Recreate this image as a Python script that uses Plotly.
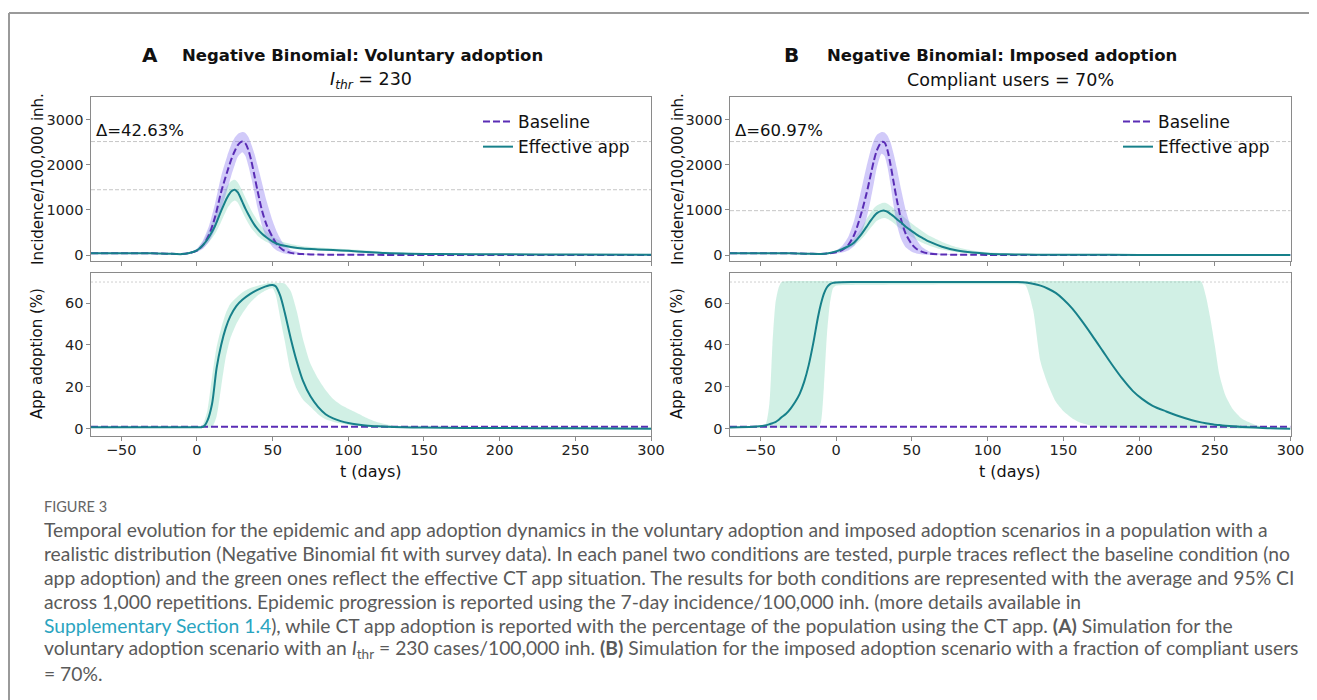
import plotly.graph_objects as go

# page is shown with an 8px body margin: figure covers window pixels 8..1317
OFF = 8
W, H = 1317 - OFF, 700 - OFF

# ------------------------------------------------------------------ data
# incidence (7-day / 100,000 inh.) — shared time grid
t_inc = [-70, -50, -30, -20, -10, -5, 0, 4, 8, 12, 16, 20, 23, 25, 27, 30, 32, 34, 36, 38,
         40, 43, 46, 50, 53, 57, 62, 70, 80, 90, 100, 112, 124, 140, 160, 200, 250, 300]

A_base_mean = [40, 40, 37, 30, 20, 45, 100, 220, 450, 850, 1400, 1850, 2150, 2310, 2440, 2520, 2480, 2330, 2080, 1760,
               1430, 985, 670, 393, 230, 110, 48, 20, 10, 7, 5, 4, 3, 2, 2, 1, 1, 1]
A_base_lo = [30, 30, 27, 20, 12, 30, 65, 140, 300, 580, 1000, 1450, 1800, 2000, 2180, 2280, 2200, 1980, 1700, 1380,
             1050, 650, 380, 180, 95, 40, 15, 5, 3, 2, 1, 1, 0, 0, 0, 0, 0, 0]
A_base_hi = [50, 50, 47, 40, 30, 60, 140, 330, 650, 1150, 1750, 2200, 2480, 2610, 2690, 2730, 2710, 2620, 2450, 2250,
             2000, 1600, 1200, 760, 500, 260, 110, 40, 18, 12, 9, 7, 5, 4, 3, 2, 2, 2]
A_app_mean = [40, 40, 37, 30, 20, 45, 105, 220, 400, 650, 980, 1280, 1420, 1450, 1390, 1180, 1030, 900, 780, 670,
              580, 470, 390, 300, 250, 210, 180, 145, 125, 110, 92, 68, 45, 30, 22, 15, 10, 8]
A_app_lo = [32, 32, 29, 22, 13, 32, 75, 160, 290, 470, 740, 1030, 1170, 1210, 1160, 960, 820, 700, 590, 510,
            430, 350, 290, 230, 195, 170, 145, 115, 100, 85, 65, 40, 25, 15, 10, 5, 3, 2]
A_app_hi = [48, 48, 45, 38, 28, 60, 140, 300, 560, 880, 1250, 1540, 1650, 1670, 1610, 1420, 1270, 1130, 990, 870,
            760, 630, 520, 420, 350, 290, 245, 195, 165, 145, 128, 100, 72, 50, 36, 25, 18, 15]

B_base_mean = [40, 40, 37, 30, 25, 35, 60, 110, 220, 450, 850, 1350, 1800, 2100, 2330, 2510, 2500, 2320, 2000, 1620,
               1250, 780, 470, 240, 140, 70, 30, 12, 6, 4, 3, 2, 2, 1, 1, 1, 0, 0]
B_base_lo = [30, 30, 27, 20, 15, 22, 35, 55, 100, 200, 420, 800, 1250, 1600, 1950, 2250, 2200, 1950, 1550, 1100,
             700, 350, 170, 70, 35, 12, 4, 1, 0, 0, 0, 0, 0, 0, 0, 0, 0, 0]
B_base_hi = [50, 50, 47, 40, 35, 55, 100, 200, 400, 780, 1350, 1950, 2350, 2550, 2670, 2730, 2720, 2650, 2500, 2250,
             1950, 1450, 1000, 560, 350, 170, 70, 25, 12, 8, 6, 4, 3, 3, 2, 2, 2, 2]
B_app_mean = [40, 40, 37, 30, 25, 40, 80, 130, 190, 280, 430, 620, 770, 860, 930, 980, 985, 960, 910, 860,
              800, 720, 630, 530, 460, 380, 290, 185, 100, 55, 30, 17, 10, 6, 4, 3, 2, 2]
B_app_lo = [32, 32, 29, 22, 17, 30, 60, 95, 140, 210, 330, 480, 610, 690, 760, 810, 820, 800, 760, 710,
            650, 570, 490, 400, 340, 270, 200, 120, 60, 30, 15, 8, 4, 2, 1, 1, 0, 0]
B_app_hi = [48, 48, 45, 38, 33, 52, 105, 170, 250, 370, 560, 790, 950, 1040, 1100, 1150, 1160, 1140, 1090, 1040,
            980, 900, 810, 700, 620, 530, 420, 290, 170, 100, 60, 35, 22, 13, 8, 5, 4, 3]

# app adoption (%) — panel A
t_adA = [-70, -50, -30, -10, 0, 3, 5, 7, 10, 13, 16, 19, 22, 26, 30, 35, 40, 45, 48, 50,
         52, 55, 58, 62, 66, 70, 75, 80, 85, 90, 95, 100, 106, 113, 120, 130, 150, 200, 250, 300]
A_ad_mean = [0.8, 0.8, 0.8, 0.8, 0.8, 0.8, 1.5, 4, 12, 29, 40, 48, 53.6, 58.5, 61.5, 64.2, 66.3, 67.8, 68.5, 68.6,
             68, 63.5, 55.5, 43, 32, 23, 15.5, 10.5, 7, 5, 3.7, 2.8, 2.1, 1.5, 1.2, 0.9, 0.6, 0.4, 0.3, 0.1]
A_ad_lo = [0.5, 0.5, 0.5, 0.5, 0.5, 0.5, 0.5, 0.5, 0.8, 6, 20, 34, 43, 50, 55, 60, 63.5, 65.8, 66.8, 67,
           64, 53, 42, 27, 19, 14, 10.5, 7, 4.6, 3.4, 2.5, 1.9, 1.4, 1, 0.8, 0.6, 0.4, 0.2, 0.1, 0]
A_ad_hi = [1.1, 1.1, 1.1, 1.1, 1.1, 1.1, 4, 9, 25, 39, 48, 55, 59.5, 62.5, 65, 67, 68.2, 69.2, 69.6, 69.7,
           69.7, 69.5, 69.3, 65.6, 56, 43, 31, 24, 18.5, 14.2, 11.5, 9.6, 7.5, 5, 3, 1.5, 1.0, 0.8, 0.7, 0.6]

# app adoption (%) — panel B
t_adB = [-70, -55, -47, -44, -42, -40, -38, -36, -33, -30, -27, -24, -21, -18, -15, -12, -10, -8, -6, -4,
         -2, 0, 10, 50, 100, 120, 125, 130, 135, 140, 145, 150, 156, 162, 169, 176, 182, 189, 196, 202,
         209, 218, 226, 235, 241, 244, 247, 250, 253, 257, 262, 268, 277, 286, 300]
B_ad_mean = [0.7, 1.0, 1.6, 2.2, 2.7, 3.2, 4.2, 5.5, 7.2, 9.7, 12.8, 16.7, 22.5, 30.5, 41, 53, 59.5, 64.5, 67.5, 69,
             69.6, 69.8, 70, 70, 70, 70, 69.8, 69.2, 68.3, 66.8, 64.8, 61.8, 57.3, 51.7, 44.6, 37.2, 30.8, 23.9, 18, 14.3,
             11, 8.3, 6.1, 4.1, 3.1, 2.7, 2.3, 2, 1.8, 1.5, 1.2, 0.9, 0.6, 0.3, 0.1]
B_ad_lo = [0.4, 0.5, 0.5, 0.5, 0.5, 0.5, 0.5, 0.5, 0.5, 0.5, 0.5, 0.5, 0.5, 0.5, 0.5, 0.5, 3, 20, 45, 60,
           67, 68.3, 68.6, 68.8, 68.9, 68.9, 68.5, 57, 32, 21, 13, 8.5, 5, 2.8, 1.5, 0.8, 0.6, 0.5, 0.4, 0.4,
           0.3, 0.3, 0.3, 0.3, 0.3, 0.3, 0.3, 0.3, 0.2, 0.2, 0.2, 0.1, 0.1, 0.0, 0.0]
B_ad_hi = [1.0, 1.3, 1.5, 12, 40, 60, 67, 70, 70.4, 70.5, 70.5, 70.5, 70.5, 70.5, 70.5, 70.5, 70.5, 70.5, 70.5, 70.5,
           70.5, 70.5, 70.5, 70.5, 70.5, 70.5, 70.5, 70.5, 70.5, 70.5, 70.5, 70.5, 70.5, 70.5, 70.5, 70.5, 70.5, 70.5, 70.5, 70.5,
           70.5, 70.5, 70.5, 70.5, 70.3, 63.7, 53, 40, 26, 16, 9.3, 4.8, 1.9, 0.6, 0.3]

# baseline adoption (no app) and reference levels
t_base_ad = [-70, 300]
base_ad = [1.0, 1.0]
ref_inc_A = [2520, 1450]
ref_inc_B = [2520, 985]
ref_adopt = [70]
delta_A = "Δ=42.63%"
delta_B = "Δ=60.97%"
x_ticks = [-50, 0, 50, 100, 150, 200, 250, 300]
inc_ticks = [0, 1000, 2000, 3000]
ad_ticks = [0, 20, 40, 60]

# ------------------------------------------------------------------ style
PURPLE = "#5a2db5"
TEAL = "#17808a"
PURPLE_BAND = "rgba(123,104,238,0.35)"
TEAL_BAND = "rgba(102,205,170,0.30)"
FONT = "DejaVu Sans"
CAP_FONT = "Lato"


def X(px):
    return (px - OFF) / W


def Y(py):
    return 1 - (py - OFF) / H


fig = go.Figure()


def band(x, lo, hi, color, xa, ya):
    fig.add_trace(go.Scatter(x=x, y=lo, mode="lines", xaxis=xa, yaxis=ya,
                             line=dict(width=0, shape="spline", smoothing=0.6),
                             showlegend=False, hoverinfo="skip"))
    fig.add_trace(go.Scatter(x=x, y=hi, mode="lines", xaxis=xa, yaxis=ya,
                             line=dict(width=0, shape="spline", smoothing=0.6),
                             fill="tonexty", fillcolor=color,
                             showlegend=False, hoverinfo="skip"))


def line(x, y, color, dash, xa, ya, name=None, legend=None, rank=None):
    fig.add_trace(go.Scatter(x=x, y=y, mode="lines", xaxis=xa, yaxis=ya,
                             line=dict(color=color, width=2, dash=dash, shape="spline", smoothing=0.8),
                             name=name, showlegend=name is not None,
                             legend=legend, legendrank=rank))


# Panel A incidence
band(t_inc, A_app_lo, A_app_hi, TEAL_BAND, "x", "y")
band(t_inc, A_base_lo, A_base_hi, PURPLE_BAND, "x", "y")
line(t_inc, A_base_mean, PURPLE, "7px,3px", "x", "y", "Baseline", "legend", 1)
line(t_inc, A_app_mean, TEAL, "solid", "x", "y", "Effective app", "legend", 2)
# Panel A adoption
band(t_adA, A_ad_lo, A_ad_hi, TEAL_BAND, "x2", "y2")
line(t_base_ad, base_ad, PURPLE, "7px,3px", "x2", "y2")
line(t_adA, A_ad_mean, TEAL, "solid", "x2", "y2")
# Panel B incidence
band(t_inc, B_app_lo, B_app_hi, TEAL_BAND, "x3", "y3")
band(t_inc, B_base_lo, B_base_hi, PURPLE_BAND, "x3", "y3")
line(t_inc, B_base_mean, PURPLE, "7px,3px", "x3", "y3", "Baseline", "legend2", 1)
line(t_inc, B_app_mean, TEAL, "solid", "x3", "y3", "Effective app", "legend2", 2)
# Panel B adoption
band(t_adB, B_ad_lo, B_ad_hi, TEAL_BAND, "x4", "y4")
line(t_base_ad, base_ad, PURPLE, "7px,3px", "x4", "y4")
line(t_adB, B_ad_mean, TEAL, "solid", "x4", "y4")

# ------------------------------------------------------------------ axes
AX = (91, 651)
BX = (730, 1290.5)
TOPY = (97, 261)
BOTY = (273, 436)
FRAME = "#8a8a8a"
tickfont = dict(family=FONT, size=14.5, color="#222")


def xax(dom, anchor, labels):
    return dict(domain=[X(dom[0]), X(dom[1])], anchor=anchor, range=[-70, 300],
                tickvals=x_ticks, showticklabels=labels, ticks="outside", ticklen=3.5,
                tickcolor=FRAME, showline=True, mirror=True, linecolor=FRAME, linewidth=1.2,
                showgrid=False, zeroline=False, tickfont=tickfont, automargin=False,
                ticklabelstandoff=-3)


def yax(dom, anchor, rng, tv):
    return dict(domain=[Y(dom[1]), Y(dom[0])], anchor=anchor, range=rng,
                tickvals=tv, ticks="outside", ticklen=3.5, tickcolor=FRAME,
                showline=True, mirror=True, linecolor=FRAME, linewidth=1.2,
                showgrid=False, zeroline=False, tickfont=tickfont, automargin=False)


fig.update_layout(
    xaxis=xax(AX, "y", False), yaxis=yax(TOPY, "x", [-133, 3510], inc_ticks),
    xaxis2=xax(AX, "y2", True), yaxis2=yax(BOTY, "x2", [-3.4, 74.3], ad_ticks),
    xaxis3=xax(BX, "y3", False), yaxis3=yax(TOPY, "x3", [-133, 3510], inc_ticks),
    xaxis4=xax(BX, "y4", True), yaxis4=yax(BOTY, "x4", [-3.4, 74.3], ad_ticks),
)

# reference lines
shapes = []
for xa, ya, vals in [("x", "y", ref_inc_A), ("x3", "y3", ref_inc_B)]:
    for v in vals:
        shapes.append(dict(type="line", xref=f"{xa} domain", x0=0, x1=1, yref=ya, y0=v, y1=v,
                           line=dict(color="#c6c6c6", width=1, dash="4px,2px"), layer="below"))
for xa, ya in [("x2", "y2"), ("x4", "y4")]:
    for v in ref_adopt:
        shapes.append(dict(type="line", xref=f"{xa} domain", x0=0, x1=1, yref=ya, y0=v, y1=v,
                           line=dict(color="#cfcfcf", width=1, dash="2px,2px"), layer="below"))
# figure frame (top and left rule)
shapes.append(dict(type="line", xref="paper", yref="paper", x0=X(9), x1=1, y0=Y(13), y1=Y(13),
                   line=dict(color="#9a9a9a", width=2)))
shapes.append(dict(type="line", xref="paper", yref="paper", x0=X(9), x1=X(9), y0=Y(13), y1=0,
                   line=dict(color="#9a9a9a", width=2)))

# ------------------------------------------------------------------ text
ann = []


def txt(text, px, py, size, xanchor="center", family=FONT, color="#111", angle=0, yanchor="middle"):
    ann.append(dict(text=text, x=X(px), y=Y(py), xref="paper", yref="paper", showarrow=False,
                    xanchor=xanchor, yanchor=yanchor, textangle=angle,
                    font=dict(family=family, size=size, color=color)))


txt("<b>A</b>", 150, 55, 20)
txt("<b>Negative Binomial: Voluntary adoption</b>", 180, 55, 16.5, "left")
txt("<i>I</i><sub><i>thr</i></sub> = 230", 371, 80, 17.5)
txt("<b>B</b>", 791, 55, 20)
txt("<b>Negative Binomial: Imposed adoption</b>", 825, 55, 16.5, "left")
txt("Compliant users = 70%", 1010, 80, 17.5)

for cx in (38, 678):
    txt("Incidence/100,000 inh.", cx, 179, 15, angle=-90)
for cx in (37, 677):
    txt("App adoption (%)", cx, 354, 15, angle=-90)
for cx in (371, 1010):
    txt("t (days)", cx, 471, 16)

ann.append(dict(text=delta_A, x=-68, y=2760, xref="x", yref="y", showarrow=False,
                xanchor="left", yanchor="middle", font=dict(family=FONT, size=16.5, color="#111")))
ann.append(dict(text=delta_B, x=-68, y=2760, xref="x3", yref="y3", showarrow=False,
                xanchor="left", yanchor="middle", font=dict(family=FONT, size=16.5, color="#111")))

# caption
CAP = "#5a5a5a"
LINK = "#2aa4bf"
txt("FIGURE 3", 42, 506, 14.5, "left", CAP_FONT, "#666")
cap_lines = [
    "Temporal evolution for the epidemic and app adoption dynamics in the voluntary adoption and imposed adoption scenarios in a population with a",
    "realistic distribution (Negative Binomial fit with survey data). In each panel two conditions are tested, purple traces reflect the baseline condition (no",
    "app adoption) and the green ones reflect the effective CT app situation. The results for both conditions are represented with the average and 95% CI",
    "across 1,000 repetitions. Epidemic progression is reported using the 7-day incidence/100,000 inh. (more details available in",
    f"<span style='color:{LINK}'>Supplementary Section 1.4</span>), while CT app adoption is reported with the percentage of the population using the CT app. <b>(A)</b> Simulation for the",
    "voluntary adoption scenario with an <i>I</i><sub>thr</sub> = 230 cases/100,000 inh. <b>(B)</b> Simulation for the imposed adoption scenario with a fraction of compliant users",
    "= 70%.",
]
for i, s in enumerate(cap_lines):
    txt(s, 42, 529 + 24 * i, 19.3, "left", CAP_FONT, CAP)

legend_common = dict(xanchor="left", yanchor="top", bgcolor="rgba(0,0,0,0)",
                     font=dict(family=FONT, size=17, color="#111"), itemwidth=30,
                     tracegroupgap=0, traceorder="normal")
fig.update_layout(
    width=W, height=H, margin=dict(l=0, r=0, t=0, b=0, autoexpand=False),
    paper_bgcolor="white", plot_bgcolor="white",
    annotations=ann, shapes=shapes,
    legend=dict(x=X(478), y=Y(104), **legend_common),
    legend2=dict(x=X(1118), y=Y(104), **legend_common),
)

fig.write_html("out.html")
